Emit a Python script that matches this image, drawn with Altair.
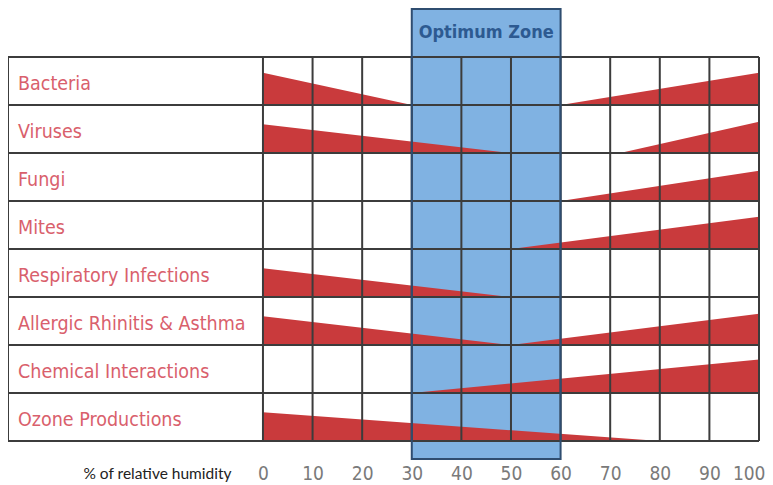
import altair as alt
import pandas as pd

# ---- data ----
categories = [
    "Bacteria", "Viruses", "Fungi", "Mites", "Respiratory Infections",
    "Allergic Rhinitis & Asthma", "Chemical Interactions", "Ozone Productions",
]
# each wedge: category, start humidity, end humidity, relative height at start / end
wedge_cat = ["Bacteria", "Bacteria", "Viruses", "Viruses", "Fungi", "Mites",
             "Respiratory Infections", "Allergic Rhinitis & Asthma",
             "Allergic Rhinitis & Asthma", "Chemical Interactions", "Ozone Productions"]
wedge_x0 = [0, 60, 0, 72, 60, 50, 0, 0, 50, 30, 0]
wedge_x1 = [30, 100, 50, 100, 100, 100, 50, 50, 100, 100, 80]
wedge_h0 = [0.67, 0.0, 0.60, 0.0, 0.0, 0.0, 0.60, 0.60, 0.0, 0.0, 0.60]
wedge_h1 = [0.0, 0.67, 0.0, 0.65, 0.63, 0.67, 0.0, 0.0, 0.65, 0.70, 0.0]
humidity_ticks = [0, 10, 20, 30, 40, 50, 60, 70, 80, 90, 100]
optimum_lo, optimum_hi = 30, 60

# ---- layout constants ----
N = len(categories)
LABEL_LEFT = -51.4
X_DOM = [LABEL_LEFT, 100]
Y_DOM = [-0.375, 9.0208]
W, H = 751, 451

NARROW = "DejaVu Sans Condensed, Liberation Sans Narrow, Roboto"
RED = "#c93a3c"
LABEL_RED = "#d9606c"
GRID = "#3c3c3c"

xs = alt.Scale(domain=X_DOM, nice=False, zero=False)
ys = alt.Scale(domain=Y_DOM, nice=False, zero=False)

# wedges
rows = []
for i, (c, x0, x1, h0, h1) in enumerate(zip(wedge_cat, wedge_x0, wedge_x1, wedge_h0, wedge_h1)):
    base = N - 1 - categories.index(c)
    rows.append({"wid": "w%d" % i, "hx": float(x0), "lo": float(base), "hi": base + h0})
    rows.append({"wid": "w%d" % i, "hx": float(x1), "lo": float(base), "hi": base + h1})
wedges = pd.DataFrame(rows)

labels = pd.DataFrame({"cat": categories,
                       "y": [N - 1 - i + 0.5 for i in range(N)],
                       "x": [LABEL_LEFT] * N})

hlines = pd.DataFrame({"y": list(range(N + 1)), "x": [LABEL_LEFT] * (N + 1), "x2": [100] * (N + 1)})
vlines = pd.DataFrame({"x": [LABEL_LEFT] + humidity_ticks, "y": [0] * 12, "y2": [N] * 12})
zone = pd.DataFrame({"x": [optimum_lo], "x2": [optimum_hi], "y": [Y_DOM[0]], "y2": [N + 1],
                     "t": ["Optimum Zone"], "xm": [(optimum_lo + optimum_hi) / 2], "ym": [N + 0.5]})

zone_fill = alt.Chart(zone).mark_rect(color="#80b2e2").encode(
    x=alt.X("x:Q", scale=xs,
            axis=alt.Axis(values=humidity_ticks, domain=False, ticks=False, grid=False,
                          labelFont=NARROW, labelFontSize=19, labelColor="#7a7a7a",
                          labelPadding=5, labelFlush=False, labelBound=False,
                          labelAlign={"condition": {"test": "datum.value == 100", "value": "right"},
                                      "value": "center"},
                          labelOffset={"condition": {"test": "datum.value == 100", "value": 6},
                                       "value": 0},
                          title="% of relative humidity", titleFont="Lato",
                          titleFontSize=15.5, titleFontWeight="normal", titleColor="#222222",
                          titleX=149, titleY=14, titleBaseline="middle", titleAlign="center")),
    x2="x2:Q",
    y=alt.Y("y:Q", scale=ys, axis=None),
    y2="y2:Q",
)

areas = alt.Chart(wedges).mark_area(color=RED, interpolate="linear").encode(
    x=alt.X("hx:Q", scale=xs),
    y=alt.Y("hi:Q", scale=ys, stack=None),
    y2="lo:Q",
    detail="wid:N",
)

h = alt.Chart(hlines).mark_rule(color=GRID, strokeWidth=2).encode(
    x=alt.X("x:Q", scale=xs), x2="x2:Q", y=alt.Y("y:Q", scale=ys))
v = alt.Chart(vlines).mark_rule(color=GRID, strokeWidth=2).encode(
    x=alt.X("x:Q", scale=xs), y=alt.Y("y:Q", scale=ys), y2="y2:Q")

zone_border = alt.Chart(zone).mark_rect(fill=None, stroke="#2f4d70", strokeWidth=2).encode(
    x=alt.X("x:Q", scale=xs), x2="x2:Q", y=alt.Y("y:Q", scale=ys), y2="y2:Q")

zone_text = alt.Chart(zone).mark_text(font=NARROW, fontSize=18, fontWeight="bold",
                                      color="#2d5a91").encode(
    x=alt.X("xm:Q", scale=xs), y=alt.Y("ym:Q", scale=ys), text="t:N")

label_text = alt.Chart(labels).mark_text(font=NARROW, fontSize=19.5, color=LABEL_RED,
                                         align="left", baseline="middle", dx=10, dy=3).encode(
    x=alt.X("x:Q", scale=xs), y=alt.Y("y:Q", scale=ys), text="cat:N")

chart = alt.layer(zone_fill, areas, h, v, zone_border, zone_text, label_text).properties(
    width=W, height=H,
    autosize=alt.AutoSizeParams(type="none"),
    padding={"left": 0, "top": 0, "right": 6, "bottom": 26},
).configure(background="white").configure_view(stroke=None)

chart.save("out.html", embed_options={"renderer": "svg", "actions": False})
